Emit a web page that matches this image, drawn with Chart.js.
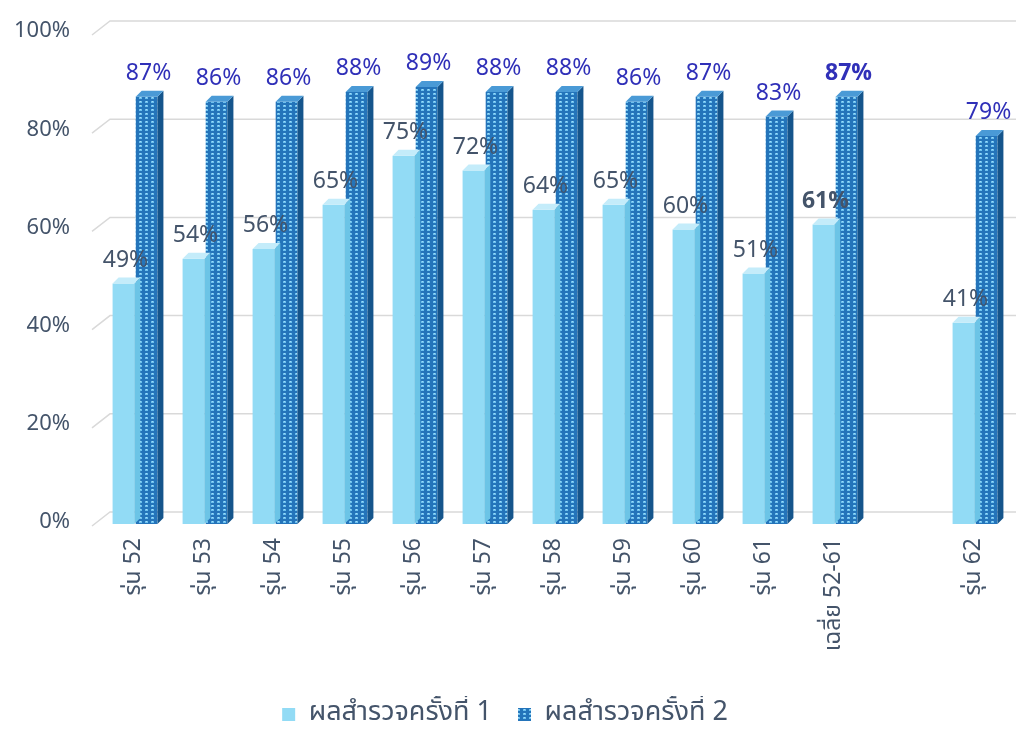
<!DOCTYPE html>
<html>
<head>
<meta charset="utf-8">
<script src="https://cdn.jsdelivr.net/npm/chart.js@4/dist/chart.umd.min.js"></script>
<style>
  html, body { margin: 0; padding: 0; background: #fff; }
  #wrap { width: 1016px; height: 738px; }
</style>
</head>
<body>
<div id="wrap"><canvas id="chart-area"></canvas></div>
<script>
// chart values
var categories = ['รุ่น 52', 'รุ่น 53', 'รุ่น 54', 'รุ่น 55', 'รุ่น 56', 'รุ่น 57', 'รุ่น 58',
                  'รุ่น 59', 'รุ่น 60', 'รุ่น 61', 'เฉลี่ย 52-61', '', 'รุ่น 62'];
var round1 = [49, 54, 56, 65, 75, 72, 64, 65, 60, 51, 61, null, 41];
var round2 = [87, 86, 86, 88, 89, 88, 88, 86, 87, 83, 87, null, 79];
var seriesNames = ['ผลสำรวจครั้งที่ 1', 'ผลสำรวจครั้งที่ 2'];
var yTicks = [0, 20, 40, 60, 80, 100];
var boldIndex = 10; // the average column

var fontFamily = '"Noto Sans Thai", "Noto Sans", "Open Sans", sans-serif';

// dotted blue fill for second series
function makePattern() {
    var c = document.createElement('canvas');
    c.width = 6; c.height = 4;
    var g = c.getContext('2d');
    g.fillStyle = '#2474ba';
    g.fillRect(0, 0, 6, 4);
    g.fillStyle = '#6cc0ee';
    g.fillRect(1, 1, 3, 2);
    g.fillStyle = '#a6dcf8';
    g.fillRect(2, 1, 1, 1);
    return g.createPattern(c, 'repeat');
}
var darkPattern = makePattern();

var DX = 6, DY = -6;

// fake 3d faces on the bars
var bars3d = {
    id: 'bars3d',
    afterDatasetDraw: function (chart, args) {
        var ctx = chart.ctx;
        var meta = args.meta;
        var side = args.index === 0 ? '#6cc4e6' : '#15558c';
        var top = args.index === 0 ? '#c4ecfa' : '#4a9ad6';
        ctx.save();
        meta.data.forEach(function (bar, i) {
            if (chart.data.datasets[args.index].data[i] == null) return;
            var p = bar.getProps(['x', 'y', 'base', 'width'], true);
            var l = p.x - p.width / 2, r = p.x + p.width / 2;
            ctx.fillStyle = side;
            ctx.beginPath();
            ctx.moveTo(r, p.y);
            ctx.lineTo(r + DX, p.y + DY);
            ctx.lineTo(r + DX, p.base + DY);
            ctx.lineTo(r, p.base);
            ctx.closePath();
            ctx.fill();
            ctx.fillStyle = top;
            ctx.beginPath();
            ctx.moveTo(l, p.y);
            ctx.lineTo(l + DX, p.y + DY);
            ctx.lineTo(r + DX, p.y + DY);
            ctx.lineTo(r, p.y);
            ctx.closePath();
            ctx.fill();
        });
        ctx.restore();
    }
};

// back-wall gridlines with slanted left part
var wallGrid = {
    id: 'wallGrid',
    beforeDatasetsDraw: function (chart) {
        var ctx = chart.ctx;
        var y = chart.scales.y;
        var area = chart.chartArea;
        ctx.save();
        ctx.strokeStyle = '#d9d9d9';
        ctx.lineWidth = 1.5;
        yTicks.forEach(function (v) {
            var py = y.getPixelForValue(v);
            ctx.beginPath();
            ctx.moveTo(area.left - 8, py + 2);
            ctx.lineTo(area.left + 10, py - 12);
            ctx.lineTo(chart.width, py - 12);
            ctx.stroke();
        });
        ctx.restore();
    }
};

// value labels above bars
var valueLabels = {
    id: 'valueLabels',
    afterDatasetsDraw: function (chart) {
        var ctx = chart.ctx;
        ctx.save();
        ctx.textAlign = 'center';
        ctx.textBaseline = 'bottom';
        chart.data.datasets.forEach(function (ds, d) {
            var meta = chart.getDatasetMeta(d);
            meta.data.forEach(function (bar, i) {
                if (ds.data[i] == null) return;
                var bold = i === boldIndex ? 'bold ' : '';
                ctx.font = bold + '23px ' + fontFamily;
                ctx.fillStyle = d === 0 ? '#44546a' : '#3030b8';
                ctx.fillText(ds.data[i] + '%', bar.x + 2, bar.y - 10);
            });
        });
        ctx.restore();
    }
};

var ctx = document.getElementById('chart-area').getContext('2d');
var config = {
    type: 'bar',
    data: {
        labels: categories,
        datasets: [{
            label: seriesNames[0],
            data: round1,
            backgroundColor: '#92dbf5',
            categoryPercentage: 0.66,
            barPercentage: 0.94
        }, {
            label: seriesNames[1],
            data: round2,
            backgroundColor: darkPattern,
            categoryPercentage: 0.66,
            barPercentage: 0.94
        }]
    },
    options: {
        responsive: true,
        maintainAspectRatio: false,
        animation: false,
        layout: {
            padding: { top: 33, right: 6, left: 0, bottom: 0 }
        },
        scales: {
            x: {
                grid: { display: false, drawTicks: false },
                border: { display: false },
                afterFit: function (axis) {
                    axis.height = 172;
                    axis.paddingLeft = 0;
                    axis.paddingRight = 0;
                },
                ticks: {
                    minRotation: 90,
                    maxRotation: 90,
                    padding: 14,
                    color: '#44546a',
                    font: { size: 23, family: fontFamily }
                }
            },
            y: {
                min: 0,
                max: 100,
                afterBuildTicks: function (axis) {
                    axis.ticks = yTicks.map(function (v) { return { value: v }; });
                },
                afterFit: function (axis) {
                    axis.width = 100;
                    axis.paddingTop = 0;
                    axis.paddingBottom = 0;
                },
                grid: { display: false, drawTicks: false },
                border: { display: false },
                ticks: {
                    padding: 30,
                    color: '#44546a',
                    font: { size: 22, family: fontFamily },
                    callback: function (v) { return v + '%'; }
                }
            }
        },
        plugins: {
            legend: {
                position: 'bottom',
                labels: {
                    boxWidth: 13,
                    boxHeight: 13,
                    padding: 5,
                    color: '#44546a',
                    font: { size: 27, family: fontFamily },
                    generateLabels: function (chart) {
                        var items = Chart.defaults.plugins.legend.labels.generateLabels(chart);
                        items[0].text = items[0].text + '   ';
                        return items;
                    }
                }
            },
            tooltip: { enabled: false }
        }
    },
    plugins: [wallGrid, bars3d, valueLabels]
};

window.myBar = new Chart(ctx, config);
</script>
</body>
</html>
